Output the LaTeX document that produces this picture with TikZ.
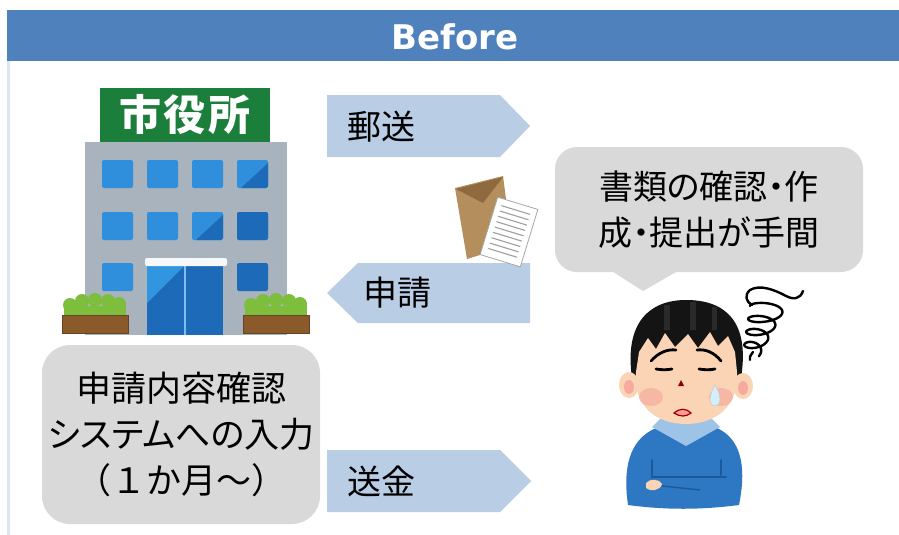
\documentclass[tikz,border=0pt]{standalone}
\usepackage{fontspec}
\newfontfamily\jp[RawFeature=+palt]{Noto Sans CJK JP}
\newfontfamily\jpfix{Noto Sans CJK JP}
\newfontfamily\hdrfont{DejaVu Sans}
\definecolor{hdrblue}{HTML}{4F81BD}
\definecolor{edgeblue}{HTML}{DCE6F2}
\definecolor{arrowblue}{HTML}{B9CDE5}
\definecolor{boxgrey}{HTML}{D9D9D9}
\definecolor{bldgrey}{HTML}{A8B3BD}
\definecolor{signgreen}{HTML}{1B7F3B}
\definecolor{winblue}{HTML}{2F8FDC}
\definecolor{windark}{HTML}{1D6BB8}
\definecolor{doorlight}{HTML}{3195E0}
\definecolor{bushgreen}{HTML}{7DBE3C}
\definecolor{soil}{HTML}{8B5A2B}
\definecolor{soilline}{HTML}{6A4220}
\definecolor{envbrown}{HTML}{B48E5C}
\definecolor{envdark}{HTML}{8E6A3E}
\definecolor{skin}{HTML}{FAD4B4}
\definecolor{blush}{HTML}{F7ABA0}
\definecolor{hair}{HTML}{141414}
\definecolor{hairstrand}{HTML}{2A2A2A}
\definecolor{sweater}{HTML}{2E77C2}
\definecolor{sweaterline}{HTML}{1B5A9A}
\definecolor{collar}{HTML}{9DC3E6}
\definecolor{sweat}{HTML}{D6EEFA}
\begin{document}
\begin{tikzpicture}[x=1pt,y=-1pt,
  jptext/.style={font=\jp\fontsize{35}{46}\selectfont, text=black},
  labeltext/.style={font=\jp\fontsize{34}{40}\selectfont, text=black, anchor=west, inner sep=0pt},
  win/.style={fill=winblue, rounded corners=2pt},
  greybox/.style={fill=boxgrey, rounded corners=28pt, inner sep=0pt, align=center, jptext},
  arrowshape/.style={fill=arrowblue},
  inkline/.style={line width=2.8pt, line cap=round, line join=round, black}]
\useasboundingbox (0,0) rectangle (899,535);
\fill[white] (0,0) rectangle (899,535);

% header band and frame edge
\fill[hdrblue] (7,10) rectangle (899,61);
\node[font=\hdrfont\bfseries\fontsize{34}{34}\selectfont, text=white] (title) at (455,37) {Before};
\fill[edgeblue] (7,61) rectangle (10,535);

% ---- city hall building ----
\fill[bldgrey] (85,142) rectangle (287,335);
\node[fill=signgreen, minimum width=170pt, minimum height=54pt, inner sep=0pt,
      font=\jpfix\bfseries\fontsize{42}{42}\selectfont, text=white] (sign) at (185,115) {市\hspace{3pt}役\hspace{3pt}所};
\foreach \x in {102,147,192,237}
  \foreach \y in {160,212}
    \fill[win] (\x,\y) rectangle ++(31,28);
\fill[win] (102,263) rectangle ++(31,28);
\fill[win, fill=windark] (237,263) rectangle ++(31,28);
\fill[win, fill=windark] (237,212) rectangle ++(31,28);
\fill[windark] (268,163) -- (268,186) -- (266,188) -- (241,188) -- cycle;
\fill[windark] (223,215) -- (223,238) -- (221,240) -- (196,240) -- cycle;
% entrance
\fill[windark] (147,265) rectangle (223,335);
\fill[doorlight] (147,265) -- (185,265) -- (147,303) -- cycle;
\draw[color=winblue!60!white, line width=1.2pt] (185,265) -- (185,335);
\fill[white!90!bldgrey, rounded corners=2pt] (145,258) rectangle (227,266);
% planters
\foreach \dx in {0,181}{
  \begin{scope}[xshift=\dx pt]
    \fill[bushgreen] (64,316) -- (64,306) -- (126,306) -- (126,316) -- cycle;
    \foreach \cx/\cy in {70/305,82/301,95/300,108/301,119/304}
      \fill[bushgreen] (\cx,\cy) circle[radius=7pt];
    \fill[soil, draw=soilline, line width=1pt] (62,315) rectangle (128,333);
  \end{scope}
}

% ---- arrows ----
\fill[arrowshape] (327,95) -- (500,95) -- (530,126) -- (500,157) -- (327,157) -- cycle;
\node[labeltext] (mail) at (347,127) {郵送};
\fill[arrowshape] (530,263) -- (358,263) -- (327,293) -- (358,323) -- (530,323) -- cycle;
\node[labeltext] (apply) at (363,293) {申請};
\fill[arrowshape] (327,450) -- (500,450) -- (531,481) -- (500,512) -- (327,512) -- cycle;
\node[labeltext] (pay) at (347,481) {送金};

% ---- envelope with document ----
\fill[envbrown] (455,188) -- (503,176) -- (512,245) -- (467,259) -- cycle;
\fill[envdark] (456,189) -- (503,177) -- (483,203) -- cycle;
\begin{scope}[shift={(509,232)}, rotate=-17]
  \fill[white, draw=gray!70, line width=0.8pt] (-21,-30) rectangle (21,30);
  \foreach \k in {0,...,8}
    \draw[gray!75, line width=1.1pt] (-15,-23+5.6*\k) -- (15,-23+5.6*\k);
\end{scope}

% ---- grey task box ----
\node[greybox, minimum width=278pt, minimum height=179pt] (task) at (181,434.5)
  {申請内容確認\\システムへの入力\\{\jpfix（１か月～）}};

% ---- speech bubble ----
\fill[boxgrey] (607,268) -- (643,291) -- (683,268) -- cycle;
\node[greybox, font=\jp\fontsize{34}{46}\selectfont, rounded corners=22pt,
      minimum width=308pt, minimum height=125pt] (bubble) at (709,209.5)
  {書類の確認・作\\成・提出が手間};

% ---- worried person ----
% body
\fill[sweater] (628,505) .. controls (623,470) and (628,440) .. (656,428) -- (717,428)
  .. controls (743,440) and (746,470) .. (739,505) .. controls (700,510) and (666,510) .. (628,505) -- cycle;
\fill[collar] (652,427) -- (686,446) -- (720,427) -- (712,419) -- (660,419) -- cycle;
\draw[sweaterline, line width=1.6pt, line cap=round] (652,460) -- (652,477) -- (726,477);
\draw[sweaterline, line width=1.6pt, line cap=round] (721,460) -- (721,475);
\fill[skin] (646,483) .. controls (650,478) and (660,479) .. (662,484) .. controls (660,491) and (650,492) .. (646,488) -- cycle;
\draw[sweaterline, line width=1.4pt] (662,486) -- (700,490);
% hair back
\fill[hair] (632,378) .. controls (624,322) and (650,300) .. (686,300)
  .. controls (726,300) and (750,322) .. (741,378) -- cycle;
\fill[hairstrand] (664,305) rectangle (670,330);
\fill[hairstrand] (690,302) rectangle (696,330);
\fill[hairstrand] (712,307) rectangle (717,330);
% ears
\fill[skin] (629,385) ellipse[x radius=10pt, y radius=13pt];
\fill[skin] (743,386) ellipse[x radius=10pt, y radius=13pt];
\fill[blush] (629,387) ellipse[x radius=5pt, y radius=7pt];
\fill[blush] (743,388) ellipse[x radius=5pt, y radius=7pt];
% face with fringe
\fill[skin] (636,372) -- (639,352) -- (648,338) -- (656,349) -- (665,333) -- (675,347) -- (688,334)
  -- (698,348) -- (710,332) -- (718,346) -- (728,336) -- (735,352) -- (737,372)
  .. controls (739,406) and (716,424) .. (686,424) .. controls (656,424) and (633,406) .. (636,372) -- cycle;
\fill[blush, opacity=0.7] (651,397) ellipse[x radius=12pt, y radius=9pt];
\fill[blush, opacity=0.7] (721,397) ellipse[x radius=12pt, y radius=9pt];
% brows, eyes, nose, mouth
\draw[inkline] (651,361) .. controls (659,352) and (668,349) .. (676,350);
\draw[inkline] (697,350) .. controls (705,349) and (714,352) .. (721,361);
\draw[inkline] (656,369) .. controls (662,370) and (667,370) .. (672,369);
\draw[inkline] (699,369) .. controls (705,370) and (710,370) .. (715,369);
\fill[red!55!black] (681,380) -- (684,386) -- (678,386) -- cycle;
\fill[red!40!white, draw=red!60!black, line width=1.2pt] (674,413) .. controls (680,408) and (686,408) .. (691,413)
  .. controls (686,417) and (680,417) .. (674,413) -- cycle;
% sweat drop
\fill[sweat, draw=sweat!70!gray, line width=0.5pt] (715,385) .. controls (709,395) and (708,405) .. (715,406)
  .. controls (722,405) and (721,395) .. (715,385) -- cycle;
% worry scribble: a tail and a tightening coil
\draw[inkline, line width=2.4pt] (803,291) .. controls (800,299) and (794,300) .. (786,296)
  .. controls (775,290) and (760,284) .. (750,290) .. controls (744,295) and (746,302) .. (752,305);
\draw[inkline, line width=2.4pt] plot[smooth, domain=0:3.6, samples=110, variable=\t]
  ({768-4.5*\t + (18-2.6*\t)*cos(360*\t+180)}, {306+13*\t + 6*sin(360*\t+180)});
\draw[inkline, line width=2.4pt] (753,352) .. controls (750,356) and (749,358) .. (750,360);
\end{tikzpicture}
\end{document}
